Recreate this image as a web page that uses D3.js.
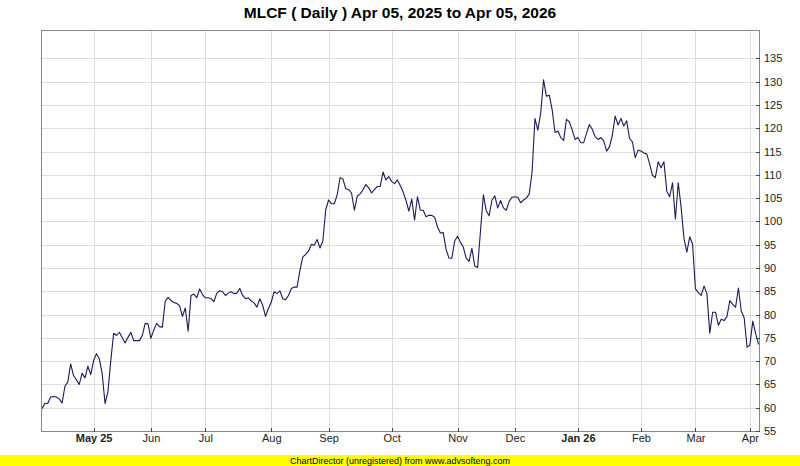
<!DOCTYPE html>
<html><head><meta charset="utf-8">
<script src="https://cdn.jsdelivr.net/npm/d3@7"></script>
<style>
body{margin:0;background:#fff}
svg{display:block}
text{font-family:"Liberation Sans",Arial,Helvetica,sans-serif}
</style></head><body>
<script>
// Daily closing prices (trading days, Apr 07 2025 .. Apr 03 2026)
const closes = [
59.8, 60.9, 60.9, 62.3, 62.4, 62.3, 61.9, 61.0, 64.6, 65.5,
69.4, 66.9, 66.0, 65.0, 67.4, 66.4, 68.9, 67.1, 70.1, 71.6,
70.5, 67.3, 60.9, 63.4, 70.1, 76.0, 75.5, 76.2, 75.0, 73.9,
75.1, 76.2, 74.4, 74.4, 74.4, 75.5, 78.1, 78.0, 74.9, 76.7,
78.1, 77.4, 77.3, 82.9, 83.7, 83.0, 82.6, 82.4, 81.9, 79.6,
81.4, 76.4, 84.1, 84.4, 83.6, 85.5, 84.3, 83.6, 83.6, 83.4,
82.8, 84.6, 85.1,
84.9, 84.1, 84.6, 84.9, 84.5, 84.6, 85.6, 84.1, 83.4, 83.6,
82.9, 82.5, 81.6, 83.4, 82.0, 79.6, 81.3, 82.7, 84.9, 84.5,
85.1, 83.4, 83.2, 84.1, 85.6, 85.9, 85.9, 89.5, 92.4, 92.9,
93.6, 95.1, 94.9, 96.1, 94.3, 95.8, 102.5, 104.6, 103.8, 103.8,
105.7, 109.4, 109.1, 107.0, 106.8, 106.1, 102.4, 105.4, 105.9, 106.8,
107.9, 107.2, 106.1, 106.8, 107.5, 107.5, 110.6, 108.9, 109.6, 108.6,
108.1,
108.9, 107.7, 106.3, 104.5, 102.2, 104.8, 100.3, 105.3, 102.4, 102.4,
101.0, 101.3, 101.3, 100.9, 98.8, 97.5, 97.6, 94.0, 92.1, 92.1,
95.8, 96.8, 95.5, 94.5, 92.1, 91.4, 94.2, 90.4, 90.1, 98.0,
105.7, 102.3, 101.2, 104.6, 105.5, 102.9, 104.5, 102.9, 102.4, 104.3,
105.2, 105.3, 105.2, 104.0, 104.6, 105.0, 105.9, 110.6, 122.1, 119.6,
123.2, 130.4, 126.9, 127.1, 124.0, 119.1, 119.4, 118.0, 117.4, 121.9,
121.4,
119.6, 117.6, 118.0, 116.9, 116.9, 118.9, 120.8, 119.8, 118.2, 117.6,
118.0, 117.3, 115.1, 116.0, 118.5, 122.6, 120.7, 122.1, 120.5, 121.6,
117.8, 117.1, 113.7, 115.3, 115.1, 114.7, 114.5, 112.4, 109.9, 109.4,
112.8, 111.5, 112.8, 106.5, 105.3, 108.3, 100.5, 108.3, 103.0, 96.3,
93.4, 96.7, 95.1, 85.5, 84.7, 84.1, 86.1, 84.5, 76.0, 80.5,
80.5, 77.7, 79.0, 78.7, 79.6, 83.0, 82.2, 81.6, 85.7, 80.7,
79.3, 73.0, 73.4, 78.6, 75.9, 73.6
];
// first trading day of each month (index into closes) and its label
const monthTickIndex  = [18, 38, 57, 80, 100, 122, 145, 165, 187, 209, 228, 247];
const monthTickLabels = ["May 25","Jun","Jul","Aug","Sep","Oct","Nov","Dec","Jan 26","Feb","Mar","Apr"];
const yearLabels = ["May 25","Jan 26"];
const yTickValues = [55,60,65,70,75,80,85,90,95,100,105,110,115,120,125,130,135];
const titleText = "MLCF ( Daily ) Apr 05, 2025 to Apr 05, 2026";
const footerText = "ChartDirector (unregistered) from www.advsofteng.com";

const W = 800, H = 466;
const L = 41, R = 760, T = 30, B = 432;

const svg = d3.select("body").append("svg").attr("width", W).attr("height", H);

const x = d3.scaleLinear().domain([0, closes.length - 1]).range([42, 758.5]);
const y = d3.scaleLinear().domain([60, 135]).range([407.7, 58.4]);

// plot background
svg.append("rect").attr("x", L).attr("y", T).attr("width", R - L).attr("height", B - T).attr("fill", "#fff");

// grid
const grid = svg.append("g").attr("shape-rendering", "crispEdges").attr("stroke", "#dcdcdc").attr("stroke-width", 1);
grid.selectAll("line.h").data(yTickValues.filter(v => v > 55)).join("line")
  .attr("x1", L).attr("x2", R)
  .attr("y1", d => Math.round(y(d)) + 0.5).attr("y2", d => Math.round(y(d)) + 0.5);
grid.selectAll("line.v").data(monthTickIndex).join("line")
  .attr("y1", T).attr("y2", B)
  .attr("x1", d => Math.round(x(d)) + 0.5).attr("x2", d => Math.round(x(d)) + 0.5);

// price line
const line = d3.line().x((d, i) => x(i)).y(d => y(d));
svg.append("path").datum(closes).attr("d", line)
  .attr("fill", "none").attr("stroke", "#1a1a5c").attr("stroke-width", 1.1)
  .attr("stroke-linejoin", "round");

// border
svg.append("rect").attr("x", L + 0.5).attr("y", T + 0.5).attr("width", R - L - 1).attr("height", B - T - 1)
  .attr("fill", "none").attr("stroke", "#888").attr("shape-rendering", "crispEdges");

// right y axis
const yAxis = d3.axisRight(y).tickValues(yTickValues).tickSize(0).tickPadding(0).tickFormat(d3.format("d"));
const ya = svg.append("g").attr("transform", `translate(${R},0)`).call(yAxis);
ya.select(".domain").remove();
ya.selectAll("text").attr("x", 4).attr("font-size", 11).attr("fill", "#222")
  .style("font-family", '"Liberation Sans",Arial,sans-serif');
ya.selectAll(".tick").append("line").attr("x1", -4).attr("x2", 0).attr("stroke", "#444")
  .attr("shape-rendering", "crispEdges");

// bottom x axis
const xAxis = d3.axisBottom(x).tickValues(monthTickIndex).tickSize(0).tickPadding(0)
  .tickFormat((d, i) => monthTickLabels[i]);
const xa = svg.append("g").attr("transform", `translate(0,${B})`).call(xAxis);
xa.select(".domain").remove();
xa.selectAll("text").attr("y", 2).attr("dy", "0.71em").attr("font-size", 11).attr("fill", "#222")
  .style("font-family", '"Liberation Sans",Arial,sans-serif')
  .attr("font-weight", (d, i) => yearLabels.includes(monthTickLabels[i]) ? "bold" : "normal");
xa.selectAll(".tick").append("line").attr("y1", -4).attr("y2", 0).attr("stroke", "#444")
  .attr("shape-rendering", "crispEdges");

// title
svg.append("text").attr("x", 400).attr("y", 18).attr("text-anchor", "middle")
  .attr("font-size", 15.5).attr("font-weight", "bold").attr("fill", "#000").text(titleText);

// footer
svg.append("rect").attr("x", 0).attr("y", 455).attr("width", W).attr("height", H - 455).attr("fill", "#ffff00");
svg.append("text").attr("x", 400).attr("y", 463.5).attr("text-anchor", "middle")
  .attr("font-size", 9).attr("fill", "#000").text(footerText);
</script>
</body></html>
